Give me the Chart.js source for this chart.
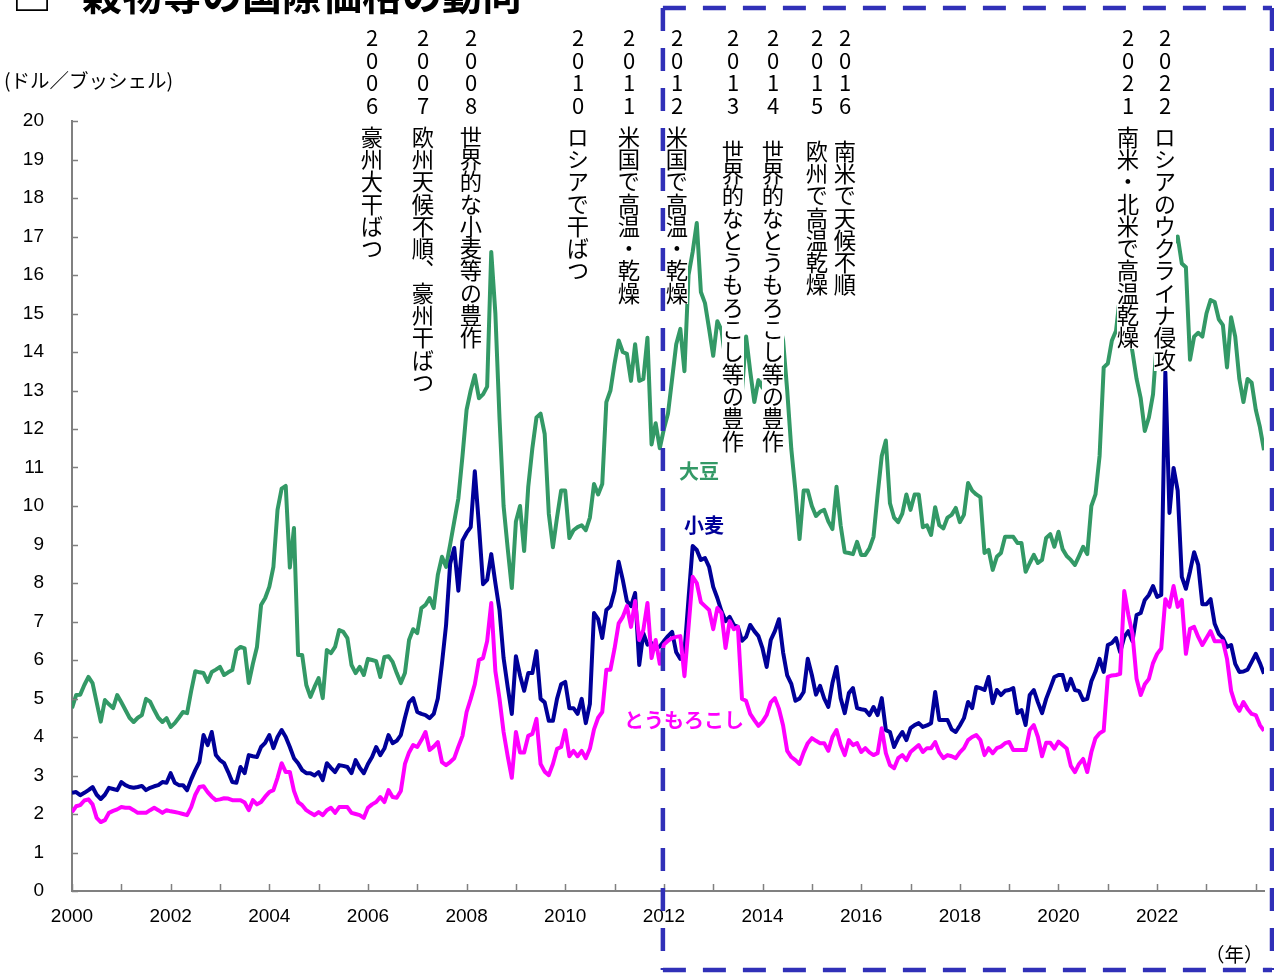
<!DOCTYPE html>
<html lang="ja">

<head>
    <meta charset="utf-8">
    <title>穀物等の国際価格の動向</title>
    <script src="https://cdn.jsdelivr.net/npm/chart.js@4.4.0/dist/chart.umd.min.js"></script>
    <style>
        body { margin: 0; background: #fff; }
        .kontainer { position: relative; width: 1274px; height: 974px; overflow: hidden; font-family: "Noto Sans CJK JP", sans-serif; color: #000; }
        #myChart { position: absolute; left: 0; top: 0; }
        .titel { position: absolute; top: -27px; font-size: 40px; line-height: 40px; font-weight: bold; white-space: nowrap; }
        .ar, .txt { position: absolute; writing-mode: vertical-rl; text-orientation: upright; line-height: 22px; white-space: nowrap; }
        .ar { font-size: 22px; letter-spacing: 0.5px; }
        .txt { font-size: 22.3px; background: #fff; }
        .lbl { position: absolute; font-weight: bold; font-size: 20px; line-height: 24px; white-space: nowrap; }
        .enhet { position: absolute; font-size: 19.5px; line-height: 22px; white-space: nowrap; }
    </style>
</head>

<body>
    <div class="kontainer">
        <canvas id="myChart" width="1274" height="974"></canvas>

        <div class="titel" style="left:12px">□</div>
        <div class="titel" style="left:82px">穀物等の国際価格の動向</div>
        <div class="enhet" style="left:4px; top:69px">(ドル／ブッシェル)</div>
        <div class="enhet" style="left:1205px; top:943px">（年）</div>

        <!-- händelser -->
        <div class="ar" style="left:361px; top:27px">2006</div>
        <div class="txt" style="left:361px; top:126px">豪州大干ばつ</div>
        <div class="ar" style="left:412px; top:27px">2007</div>
        <div class="txt" style="left:412px; top:126px">欧州天候不順、豪州干ばつ</div>
        <div class="ar" style="left:460px; top:27px">2008</div>
        <div class="txt" style="left:460px; top:126px">世界的な小麦等の豊作</div>
        <div class="ar" style="left:567px; top:27px">2010</div>
        <div class="txt" style="left:567px; top:126px">ロシアで干ばつ</div>
        <div class="ar" style="left:618px; top:27px">2011</div>
        <div class="txt" style="left:618px; top:126px">米国で高温・乾燥</div>
        <div class="ar" style="left:666px; top:27px">2012</div>
        <div class="txt" style="left:666px; top:126px">米国で高温・乾燥</div>
        <div class="ar" style="left:722px; top:27px">2013</div>
        <div class="txt" style="left:722px; top:140px">世界的なとうもろこし等の豊作</div>
        <div class="ar" style="left:762px; top:27px">2014</div>
        <div class="txt" style="left:762px; top:140px">世界的なとうもろこし等の豊作</div>
        <div class="ar" style="left:806px; top:27px">2015</div>
        <div class="txt" style="left:806px; top:140px">欧州で高温乾燥</div>
        <div class="ar" style="left:834px; top:27px">2016</div>
        <div class="txt" style="left:834px; top:140px">南米で天候不順</div>
        <div class="ar" style="left:1117px; top:27px">2021</div>
        <div class="txt" style="left:1117px; top:126px">南米・北米で高温乾燥</div>
        <div class="ar" style="left:1154px; top:27px">2022</div>
        <div class="txt" style="left:1154px; top:126px">ロシアのウクライナ侵攻</div>

        <div class="lbl" style="left:679px; top:459px; color:#339966">大豆</div>
        <div class="lbl" style="left:684px; top:513px; color:#000099">小麦</div>
        <div class="lbl" style="left:624px; top:708px; color:#ff00ff">とうもろこし</div>
    </div>
    <script>

        // årtal under x-axeln (varannat år)
        const aar = ['2000', '2002', '2004', '2006', '2008', '2010', '2012', '2014', '2016', '2018', '2020', '2022'];

        // månadspriser jan 2000 - mar 2024, dollar per bushel
        const sojabonor = [
            4.75, 5.09, 5.10, 5.35, 5.56, 5.40, 4.90, 4.40, 4.96, 4.85, 4.75, 5.09,
            4.90, 4.70, 4.50, 4.39, 4.50, 4.57, 4.99, 4.92, 4.70, 4.50, 4.39, 4.49,
            4.26, 4.36, 4.50, 4.65, 4.62, 5.20, 5.71, 5.68, 5.66, 5.43, 5.69, 5.75,
            5.82, 5.61, 5.68, 5.74, 6.26, 6.34, 6.30, 5.40, 5.90, 6.34, 7.43, 7.61,
            7.90, 8.42, 9.90, 10.45, 10.52, 8.40, 9.43, 6.13, 6.13, 5.35, 5.04, 5.30,
            5.53, 5.01, 6.26, 6.18, 6.34, 6.78, 6.73, 6.57, 5.87, 5.66, 5.82, 5.61,
            6.03, 6.00, 5.97, 5.56, 6.08, 6.10, 5.95, 5.66, 5.40, 5.66, 6.52, 6.80,
            6.70, 7.35, 7.43, 7.61, 7.35, 8.21, 8.68, 8.42, 9.00, 9.60, 10.20, 11.30,
            12.50, 13.00, 13.40, 12.80, 12.90, 13.10, 16.60, 15.00, 12.30, 10.00, 8.90, 7.87,
            9.60, 10.00, 8.83, 10.50, 11.50, 12.30, 12.40, 11.87, 9.80, 8.93, 9.70, 10.40,
            10.40, 9.17, 9.37, 9.45, 9.50, 9.37, 9.70, 10.57, 10.30, 10.57, 12.70, 13.00,
            13.70, 14.30, 14.00, 13.95, 13.25, 14.20, 13.25, 13.30, 14.37, 11.60, 12.15, 11.50,
            12.00, 12.40, 13.30, 14.20, 14.60, 13.50, 16.00, 16.60, 17.35, 15.56, 15.27, 14.60,
            13.90, 14.80, 14.57, 13.77, 13.80, 13.90, 15.90, 12.99, 14.40, 13.50, 12.70, 13.27,
            13.07, 13.77, 14.50, 14.78, 14.80, 14.30, 13.00, 11.48, 10.40, 9.14, 10.40, 10.40,
            10.00, 9.74, 9.85, 9.90, 9.60, 9.40, 10.50, 9.50, 8.80, 8.78, 8.75, 9.07,
            8.73, 8.73, 8.90, 9.20, 10.30, 11.30, 11.70, 10.07, 9.70, 9.58, 9.80, 10.30,
            9.90, 10.30, 10.30, 9.45, 9.50, 9.25, 9.97, 9.50, 9.42, 9.70, 9.77, 9.95,
            9.58, 9.77, 10.60, 10.40, 10.30, 10.23, 8.78, 8.86, 8.34, 8.68, 8.78, 9.20,
            9.20, 9.20, 9.04, 9.04, 8.29, 8.52, 8.73, 8.52, 8.60, 9.17, 9.27, 8.94,
            9.33, 8.88, 8.70, 8.60, 8.47, 8.70, 8.94, 8.75, 10.00, 10.30, 11.30, 13.60,
            13.70, 14.30, 14.55, 15.50, 16.20, 14.60, 14.00, 13.30, 12.80, 11.95, 12.30, 12.90,
            14.40, 15.40, 16.60, 16.60, 16.80, 17.00, 16.30, 16.20, 13.80, 14.40, 14.50, 14.40,
            15.00, 15.35, 15.30, 14.85, 14.70, 13.60, 14.90, 14.40, 13.30, 12.70, 13.30, 13.20,
            12.50, 12.05, 11.45
        ];

        const vete = [
            2.55, 2.57, 2.49, 2.55, 2.62, 2.70, 2.50, 2.39, 2.50, 2.68, 2.65, 2.62,
            2.83, 2.75, 2.70, 2.68, 2.70, 2.73, 2.62, 2.68, 2.72, 2.75, 2.83, 2.81,
            3.06, 2.81, 2.75, 2.75, 2.62, 2.90, 3.14, 3.35, 4.05, 3.79, 4.13, 3.53,
            3.40, 3.32, 3.09, 2.83, 2.81, 3.22, 3.06, 3.53, 3.50, 3.48, 3.74, 3.85,
            4.05, 3.71, 4.00, 4.18, 4.00, 3.74, 3.45, 3.32, 3.14, 3.06, 3.06, 3.00,
            3.09, 2.88, 3.32, 3.20, 3.09, 3.27, 3.25, 3.22, 3.06, 3.40, 3.20, 3.06,
            3.30, 3.48, 3.74, 3.53, 3.70, 4.05, 3.84, 3.90, 4.05, 4.50, 4.90, 5.01,
            4.65, 4.60, 4.57, 4.49, 4.60, 5.00, 5.90, 6.90, 8.50, 8.91, 7.80, 9.10,
            9.30, 9.45, 10.90, 9.50, 7.97, 8.08, 8.75, 8.00, 7.30, 6.05, 5.30, 4.60,
            6.10, 5.60, 5.20, 5.66, 5.66, 6.23, 4.99, 4.90, 4.42, 4.42, 4.99, 5.37,
            5.43, 4.75, 4.75, 4.60, 4.99, 4.36, 4.86, 7.22, 7.06, 6.57, 7.30, 7.40,
            7.79, 8.55, 8.08, 7.53, 7.40, 7.74, 5.87, 6.70, 6.40, 6.44, 6.30, 6.35,
            6.49, 6.62, 6.73, 6.20, 6.03, 6.20, 7.60, 8.96, 8.86, 8.60, 8.65, 8.42,
            7.90, 7.61, 7.27, 7.01, 7.12, 6.91, 6.86, 6.50, 6.60, 6.91, 6.75, 6.62,
            6.30, 5.82, 6.52, 6.75, 7.06, 6.20, 5.60, 5.38, 4.94, 5.00, 5.17, 6.03,
            5.61, 5.10, 5.33, 5.00, 4.78, 5.40, 5.82, 5.01, 4.62, 5.14, 5.27, 4.75,
            4.72, 4.70, 4.57, 4.78, 4.57, 5.01, 4.18, 4.13, 3.74, 3.97, 4.13, 3.92,
            4.23, 4.31, 4.36, 4.26, 4.30, 4.36, 5.17, 4.44, 4.44, 4.44, 4.20, 4.13,
            4.30, 4.49, 4.91, 4.75, 5.30, 5.27, 5.22, 5.56, 4.88, 5.22, 5.09, 5.20,
            5.22, 5.27, 4.62, 4.70, 4.31, 5.09, 5.22, 4.90, 4.62, 4.99, 5.27, 5.56,
            5.61, 5.61, 5.22, 5.51, 5.22, 5.19, 4.96, 4.99, 5.45, 5.70, 6.03, 5.69,
            6.39, 6.44, 6.57, 6.20, 6.60, 6.75, 6.49, 7.17, 7.22, 7.56, 7.69, 7.92,
            7.64, 7.69, 13.48, 9.82, 10.99, 10.40, 8.16, 7.85, 8.30, 8.80, 8.47, 7.45,
            7.45, 7.58, 6.94, 6.68, 6.57, 6.34, 6.39, 5.90, 5.69, 5.70, 5.75, 5.95,
            6.16, 5.92, 5.64
        ];

        const majs = [
            2.05, 2.20, 2.23, 2.35, 2.38, 2.25, 1.90, 1.79, 1.84, 2.03, 2.08, 2.12,
            2.18, 2.16, 2.16, 2.10, 2.03, 2.03, 2.03, 2.10, 2.16, 2.10, 2.03, 2.10,
            2.07, 2.05, 2.03, 2.00, 1.97, 2.18, 2.50, 2.70, 2.72, 2.57, 2.45, 2.36,
            2.38, 2.41, 2.40, 2.36, 2.36, 2.36, 2.30, 2.10, 2.36, 2.25, 2.31, 2.45,
            2.57, 2.62, 2.94, 3.32, 3.09, 3.09, 2.60, 2.31, 2.23, 2.10, 2.03, 1.97,
            2.05, 1.97, 2.10, 2.16, 2.03, 2.18, 2.18, 2.18, 2.03, 2.00, 1.97, 1.90,
            2.16, 2.25, 2.31, 2.44, 2.31, 2.62, 2.44, 2.42, 2.60, 3.30, 3.60, 3.79,
            3.74, 3.92, 4.13, 3.66, 3.75, 3.87, 3.35, 3.27, 3.35, 3.45, 3.75, 4.03,
            4.65, 4.99, 5.37, 6.00, 6.05, 6.49, 7.48, 5.71, 5.00, 4.13, 3.50, 2.94,
            4.13, 3.60, 3.60, 4.03, 4.08, 4.47, 3.30, 3.10, 3.01, 3.30, 3.69, 3.74,
            4.18, 3.50, 3.64, 3.50, 3.64, 3.45, 3.70, 4.20, 4.50, 4.65, 5.75, 5.75,
            6.30, 6.95, 7.12, 7.40, 6.86, 7.53, 6.52, 6.78, 7.48, 6.05, 6.52, 5.90,
            6.40, 6.50, 6.57, 6.60, 6.62, 5.58, 6.86, 8.16, 8.00, 7.50, 7.40, 7.30,
            6.80, 7.35, 7.22, 6.31, 7.01, 6.80, 6.86, 4.99, 4.94, 4.60, 4.44, 4.29,
            4.40, 4.57, 4.90, 5.01, 4.73, 4.30, 3.64, 3.48, 3.40, 3.30, 3.60, 3.84,
            3.97, 3.90, 3.84, 3.84, 3.64, 4.00, 4.18, 3.79, 3.53, 3.92, 3.79, 3.84,
            3.61, 3.71, 3.60, 3.53, 3.58, 4.23, 3.58, 3.27, 3.19, 3.45, 3.53, 3.40,
            3.61, 3.70, 3.79, 3.61, 3.71, 3.71, 3.87, 3.60, 3.45, 3.53, 3.50, 3.45,
            3.60, 3.71, 3.92, 4.00, 4.05, 3.92, 3.53, 3.71, 3.58, 3.71, 3.75, 3.84,
            3.87, 3.66, 3.66, 3.66, 3.66, 4.18, 4.31, 4.00, 3.50, 3.85, 3.85, 3.70,
            3.88, 3.79, 3.70, 3.25, 3.09, 3.30, 3.43, 3.09, 3.61, 3.97, 4.10, 4.16,
            5.56, 5.60, 5.61, 5.64, 7.79, 7.17, 6.68, 5.51, 5.09, 5.37, 5.51, 5.92,
            6.16, 6.30, 7.58, 7.38, 7.92, 7.38, 7.56, 6.16, 6.81, 6.86, 6.60, 6.39,
            6.57, 6.75, 6.49, 6.49, 6.49, 6.03, 5.20, 4.86, 4.68, 4.91, 4.73, 4.60,
            4.57, 4.31, 4.16
        ];

        // index = månad sedan januari 2000
        const punkter = arr => arr.map((v, i) => ({ x: i, y: v }));

        const axelFarg = '#808080';

        // streckade ramen från 2012 och små skalstreck på axlarna
        const ramar = {
            id: 'ramar',
            afterDraw(chart) {
                const c = chart.ctx;
                const xs = chart.scales.x;
                const ys = chart.scales.y;
                const a = chart.chartArea;

                c.save();
                c.strokeStyle = axelFarg;
                c.lineWidth = 1.5;
                c.beginPath();
                for (let v = 0; v <= 20; v++) {
                    const y = Math.round(ys.getPixelForValue(v)) + 0.5;
                    c.moveTo(a.left, y);
                    c.lineTo(a.left + 6, y);
                }
                for (let m = 0; m <= 288; m += 12) {
                    const x = Math.round(xs.getPixelForValue(m)) + 0.5;
                    c.moveTo(x, a.bottom);
                    c.lineTo(x, a.bottom - 7);
                }
                c.stroke();

                const vanster = xs.getPixelForValue(144) - 1;
                c.strokeStyle = '#3030b8';
                c.lineWidth = 4.5;
                c.setLineDash([23, 17]);
                c.beginPath();
                c.moveTo(vanster, 8); c.lineTo(vanster, 970);
                c.moveTo(vanster, 8); c.lineTo(1272, 8);
                c.moveTo(1272, 8); c.lineTo(1272, 970);
                c.moveTo(vanster, 970); c.lineTo(1272, 970);
                c.stroke();
                c.restore();
            }
        };

        const ctx = document.getElementById('myChart').getContext('2d');
        const myChart = new Chart(ctx, {
            type: 'line',
            data: {
                datasets: [{
                    label: '大豆',
                    data: punkter(sojabonor),
                    borderColor: '#339966',
                    borderWidth: 4,
                    order: 3
                }, {
                    label: '小麦',
                    data: punkter(vete),
                    borderColor: '#000099',
                    borderWidth: 4,
                    order: 2
                }, {
                    label: 'とうもろこし',
                    data: punkter(majs),
                    borderColor: '#ff00ff',
                    borderWidth: 4,
                    order: 1
                }]
            },
            options: {
                responsive: false,
                animation: false,
                layout: { padding: { top: 121, right: 10, bottom: 0, left: 0 } },
                elements: { point: { radius: 0 }, line: { tension: 0, borderJoinStyle: 'round' } },
                plugins: { legend: { display: false }, tooltip: { enabled: false } },
                scales: {
                    x: {
                        type: 'linear',
                        min: 0,
                        max: 290,
                        grid: { display: false, drawTicks: false },
                        border: { display: true, color: axelFarg, width: 2 },
                        ticks: {
                            stepSize: 12,
                            autoSkip: false,
                            includeBounds: false,
                            maxRotation: 0,
                            padding: 14,
                            color: '#000',
                            font: { family: 'Liberation Sans', size: 19 },
                            callback: v => (v % 24 === 0 ? aar[v / 24] : '')
                        },
                        afterFit: s => { s.height = 83; }
                    },
                    y: {
                        min: 0,
                        max: 20,
                        grid: { display: false, drawTicks: false },
                        border: { display: true, color: axelFarg, width: 2 },
                        ticks: {
                            stepSize: 1,
                            autoSkip: false,
                            padding: 28,
                            color: '#000',
                            font: { family: 'Liberation Sans', size: 19 }
                        },
                        afterFit: s => { s.width = 72; }
                    }
                }
            },
            plugins: [ramar]
        });
    </script>
</body>

</html>
